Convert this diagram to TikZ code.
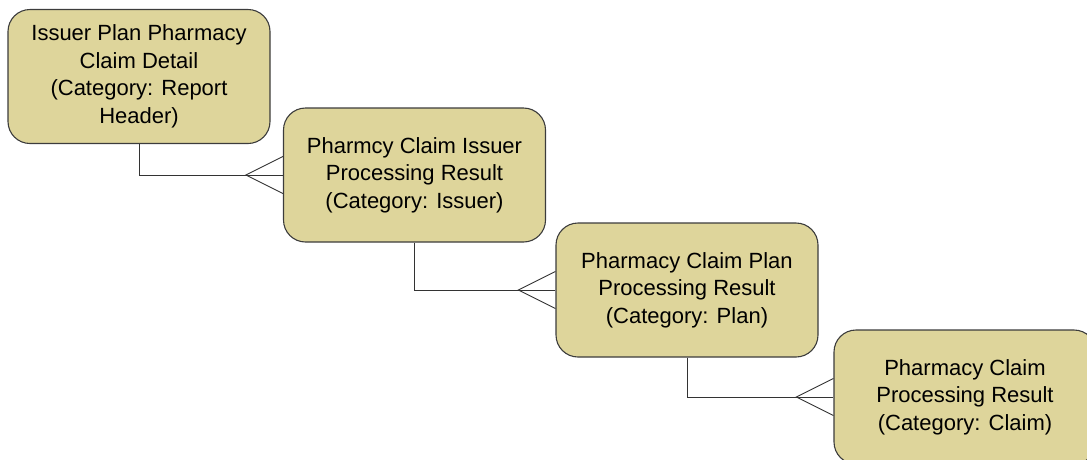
\documentclass[tikz,border=0pt]{standalone}
\usepackage{fontspec}
\setmainfont{Liberation Sans}
\definecolor{boxfill}{RGB}{222,213,155}
\definecolor{boxline}{RGB}{60,60,60}
\begin{document}
\begin{tikzpicture}[x=1pt,y=-1pt,
  entity/.style={draw=boxline, fill=boxfill, rounded corners=22pt,
    minimum width=262pt, minimum height=134pt, align=center,
    font=\fontsize{22}{27.5}\selectfont, line width=1.1pt, inner sep=0pt},
  link/.style={draw=black!80, line width=0.9pt}]
\useasboundingbox (0,0) rectangle (1087,459);
\clip (0,0) rectangle (1087,459);
\node[entity] (a) at (139,76.5) {Issuer Plan Pharmacy\\Claim Detail\\(Category: Report\\Header)};
\node[entity] (b) at (414.5,175) {Pharmcy Claim Issuer\\Processing Result\\(Category: Issuer)};
\node[entity] (c) at (687,290) {Pharmacy Claim Plan\\Processing Result\\(Category: Plan)};
\node[entity] (d) at (965,397) {Pharmacy Claim\\Processing Result\\(Category: Claim)};
\foreach \p/\q in {a/b,b/c,c/d}{
  \draw[link] (\p.south) |- (\q.west);
  \coordinate (f\q) at ([xshift=-37pt]\q.west);
  \draw[link] ([yshift=18.5pt]\q.west) -- (f\q) -- ([yshift=-18.5pt]\q.west);
}
\end{tikzpicture}
\end{document}
